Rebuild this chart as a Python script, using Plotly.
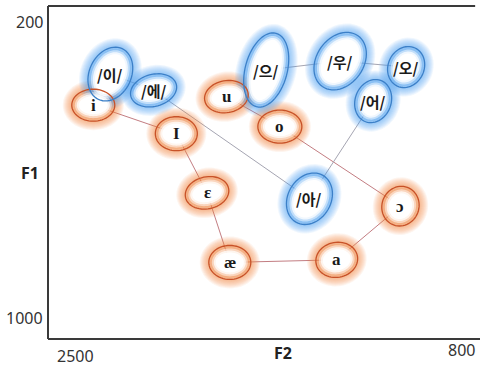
import numpy as np
import plotly.graph_objects as go

# ---------------- data ----------------
en_labels = ["i", "I", "ε", "æ", "u", "o", "a", "ɔ"]
en_f2 = [2420, 2055, 1920, 1820, 1835, 1600, 1350, 1070]
en_f1 = [425, 502, 662, 850, 402, 483, 843, 698]

ko_labels = ["/이/", "/에/", "/으/", "/우/", "/오/", "/어/", "/아/"]
ko_f2 = [2345, 2155, 1660, 1335, 1045, 1190, 1470]
ko_f1 = [341, 385, 330, 306, 322, 414, 678]

en_chain = ["i", "I", "ε", "æ", "a", "ɔ", "o", "u"]
ko_chains = [["/이/", "/에/", "/아/", "/어/"], ["/으/", "/우/", "/오/"]]

y_ticks = [200, 1000]
x_ticks = [2500, 800]

# ---------------- style ----------------
# ellipse shape in pixels: (semi-x, semi-y, rotation deg clockwise)
ell_style = {
    "i": (21.5, 16, 0), "I": (21, 17, 0), "ε": (22, 16, -12), "æ": (21, 17, 0),
    "u": (22, 16, -10), "o": (22, 16.5, 0), "a": (21, 17.5, -10), "ɔ": (18.5, 20, 20),
    "/이/": (21, 28, 25), "/에/": (23.5, 16, -15), "/으/": (21, 38, 15),
    "/우/": (23.5, 31, 35), "/오/": (18, 21, 25), "/어/": (18, 22, 20),
    "/아/": (21.5, 27, 30),
}

W, H = 480, 366
ML, MR, MT, MB = 48, 4, 6, 27
XR = [2619, 738]
YR = [1057, 157]
sx = (W - ML - MR) / (XR[0] - XR[1])
sy = (H - MT - MB) / (YR[0] - YR[1])

EN_GLOW = (243, 135, 75)
KO_GLOW = (85, 160, 240)
EN_LINE = "rgb(200,82,40)"
KO_LINE = "rgb(60,128,200)"


def ell_path(f2, f1, rx, ry, rot, grow):
    t = np.linspace(0, 2 * np.pi, 61)
    a, b = rx + grow, ry + grow
    x, y = a * np.cos(t), b * np.sin(t)
    th = np.radians(rot)
    xr = x * np.cos(th) - y * np.sin(th)
    yr = x * np.sin(th) + y * np.cos(th)
    X = f2 - xr / sx
    Y = f1 + yr / sy
    pts = [f"{X[k]:.2f},{Y[k]:.2f}" for k in range(len(t))]
    return "M" + " L".join(pts) + " Z"


items = [(l, x, y, EN_GLOW, EN_LINE) for l, x, y in zip(en_labels, en_f2, en_f1)] + \
        [(l, x, y, KO_GLOW, KO_LINE) for l, x, y in zip(ko_labels, ko_f2, ko_f1)]
pos = {l: (x, y) for l, x, y, _, _ in items}

fig = go.Figure()

# connecting lines
fig.add_trace(go.Scatter(
    x=[pos[l][0] for l in en_chain], y=[pos[l][1] for l in en_chain],
    mode="lines", line=dict(color="rgb(195,125,130)", width=1), hoverinfo="skip"))
for ch in ko_chains:
    fig.add_trace(go.Scatter(
        x=[pos[l][0] for l in ch], y=[pos[l][1] for l in ch],
        mode="lines", line=dict(color="rgb(165,165,178)", width=1), hoverinfo="skip"))

shapes = []
# glows
for l, x, y, g, _ in items:
    rx, ry, rot = ell_style[l]
    for grow in range(9, -4, -1):
        shapes.append(dict(type="path", xref="x", yref="y", layer="above",
                           path=ell_path(x, y, rx, ry, rot, grow),
                           fillcolor=f"rgba({g[0]},{g[1]},{g[2]},0.085)",
                           line=dict(width=0)))
# white interiors
for l, x, y, g, _ in items:
    rx, ry, rot = ell_style[l]
    for grow, op in [(-3, 0.5), (-5, 0.75), (-7, 1.0)]:
        shapes.append(dict(type="path", xref="x", yref="y", layer="above",
                           path=ell_path(x, y, rx, ry, rot, grow),
                           fillcolor=f"rgba(255,255,255,{op})",
                           line=dict(width=0)))
# outlines
for l, x, y, _, lc in items:
    rx, ry, rot = ell_style[l]
    shapes.append(dict(type="path", xref="x", yref="y", layer="above",
                       path=ell_path(x, y, rx, ry, rot, 0),
                       fillcolor="rgba(0,0,0,0)",
                       line=dict(color=lc, width=1.3)))

# frame
frame_col = "#3a3a3a"
shapes.append(dict(type="line", xref="paper", yref="paper", x0=0, x1=0, y0=0, y1=1,
                   line=dict(color=frame_col, width=2)))
shapes.append(dict(type="line", xref="paper", yref="paper", x0=0, x1=0.998, y0=1, y1=1,
                   line=dict(color=frame_col, width=2)))
shapes.append(dict(type="line", xref="paper", yref="paper", x0=0, x1=1.01, y0=0, y1=0,
                   line=dict(color=frame_col, width=2)))

annotations = []
for l, x, y, _, _ in items:
    if l.startswith("/"):
        font = dict(family="Noto Sans CJK KR", size=15, color="#1a1a1a", weight="bold")
    else:
        font = dict(family="Liberation Serif", size=17, color="#1a1a1a", weight="bold")
    annotations.append(dict(x=x, y=y, xref="x", yref="y", text=l, showarrow=False,
                            font=font, xanchor="center", yanchor="middle"))

tick_font = dict(family="Noto Sans", size=16, color="#333")
for v in y_ticks:
    annotations.append(dict(x=-0.008, y=v, xref="paper", yref="y", text=str(v),
                            showarrow=False, xanchor="right", yanchor="middle",
                            font=tick_font))
x_tick_y = [(339 - 356) / 333, (339 - 350) / 333]
for v, yy in zip(x_ticks, x_tick_y):
    annotations.append(dict(x=v, y=yy, xref="x", yref="paper", text=str(v),
                            showarrow=False, xanchor="center", yanchor="middle",
                            font=tick_font))
axis_font = dict(family="Noto Sans", size=16, color="#222", weight="bold")
annotations.append(dict(x=-0.042, y=(339 - 173) / 333, xref="paper", yref="paper",
                        text="F1", showarrow=False, xanchor="center", yanchor="middle",
                        font=axis_font))
annotations.append(dict(x=(283 - 48) / 428, y=(339 - 366) / 333, xref="paper",
                        yref="paper", text="F2", showarrow=False, xanchor="center",
                        yanchor="bottom", font=axis_font))

fig.update_layout(
    width=W, height=H,
    margin=dict(l=ML, r=MR, t=MT, b=MB),
    paper_bgcolor="white", plot_bgcolor="white",
    showlegend=False,
    shapes=shapes, annotations=annotations,
    xaxis=dict(range=XR, visible=False, fixedrange=True),
    yaxis=dict(range=YR, visible=False, fixedrange=True),
)

fig.write_html("out.html", config={"displayModeBar": False},
               post_script="document.body.style.margin='0';document.body.style.overflow='hidden';")
